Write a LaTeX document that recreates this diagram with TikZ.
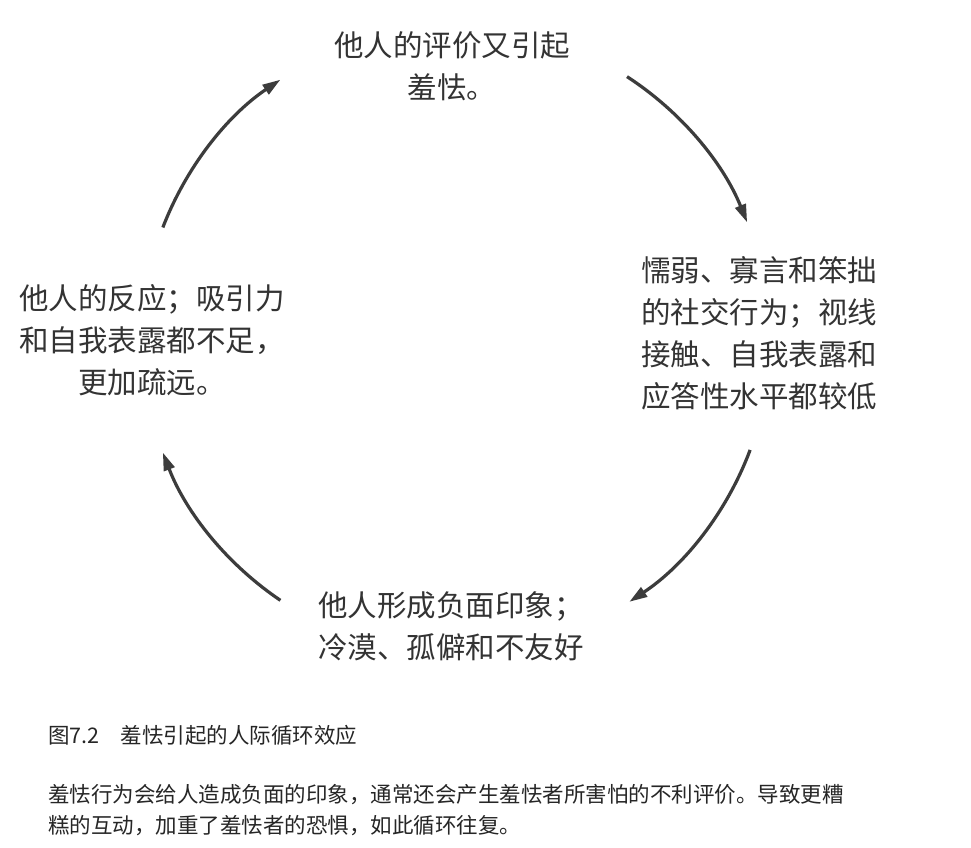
\documentclass[tikz,border=0pt]{standalone}
\usepackage{fontspec}
\setmainfont{Noto Sans CJK SC}
\usetikzlibrary{arrows.meta}
\definecolor{inkgrey}{HTML}{333333}
\definecolor{arcgrey}{HTML}{3C3C3C}
\tikzset{
  stage/.style={font=\fontsize{29.5}{42}\selectfont,text=inkgrey,inner sep=0},
  % the four arcs of the cycle all lie on one circle
  cyc/.style={draw=arcgrey,line width=3.2pt,-{Triangle[length=18pt,width=11pt]}},
  capt/.style={font=\fontsize{21.5}{31}\selectfont,text=black!85,anchor=west,inner sep=0,align=left},
}

\begin{document}
\begin{tikzpicture}[x=1pt,y=1pt]
  \fill[white] (0,0) rectangle (971,847);
  \useasboundingbox (0,0) rectangle (971,847);
  % the four stages
  \node[stage,align=center] (eval) at (452,781) {他人的评价又引起\\羞怯。};
  \node[stage,align=left] (behav) at (759,514) {懦弱、寡言和笨拙\\的社交行为；视线\\接触、自我表露和\\应答性水平都较低};
  \node[stage,align=left] (impr) at (451,221) {他人形成负面印象；\\冷漠、孤僻和不友好};
  \node[stage,align=center] (react) at (152,507) {他人的反应；吸引力\\和自我表露都不足，\\更加疏远。};
  % arcs, clockwise
  \coordinate (ctr) at (456,507);
  \coordinate (a1) at ([shift={(57:314)}]ctr);
  \coordinate (a2) at ([shift={(-20.5:314)}]ctr);
  \coordinate (a3) at ([shift={(236:314)}]ctr);
  \coordinate (a4) at ([shift={(159:314)}]ctr);
  \draw[cyc] (a1) arc[start angle=57,end angle=22,radius=314];
  \draw[cyc] (a2) arc[start angle=-20.5,end angle=-56.5,radius=314];
  \draw[cyc] (a3) arc[start angle=236,end angle=201,radius=314];
  \draw[cyc] (a4) arc[start angle=159,end angle=124,radius=314];
  % caption
  \node[capt] (title) at (48,112) {图7.2\hspace{21pt}羞怯引起的人际循环效应};
  \node[capt] (note) at (48,36.5) {羞怯行为会给人造成负面的印象，通常还会产生羞怯者所害怕的不利评价。导致更糟\\糕的互动，加重了羞怯者的恐惧，如此循环往复。};
\end{tikzpicture}
\end{document}
